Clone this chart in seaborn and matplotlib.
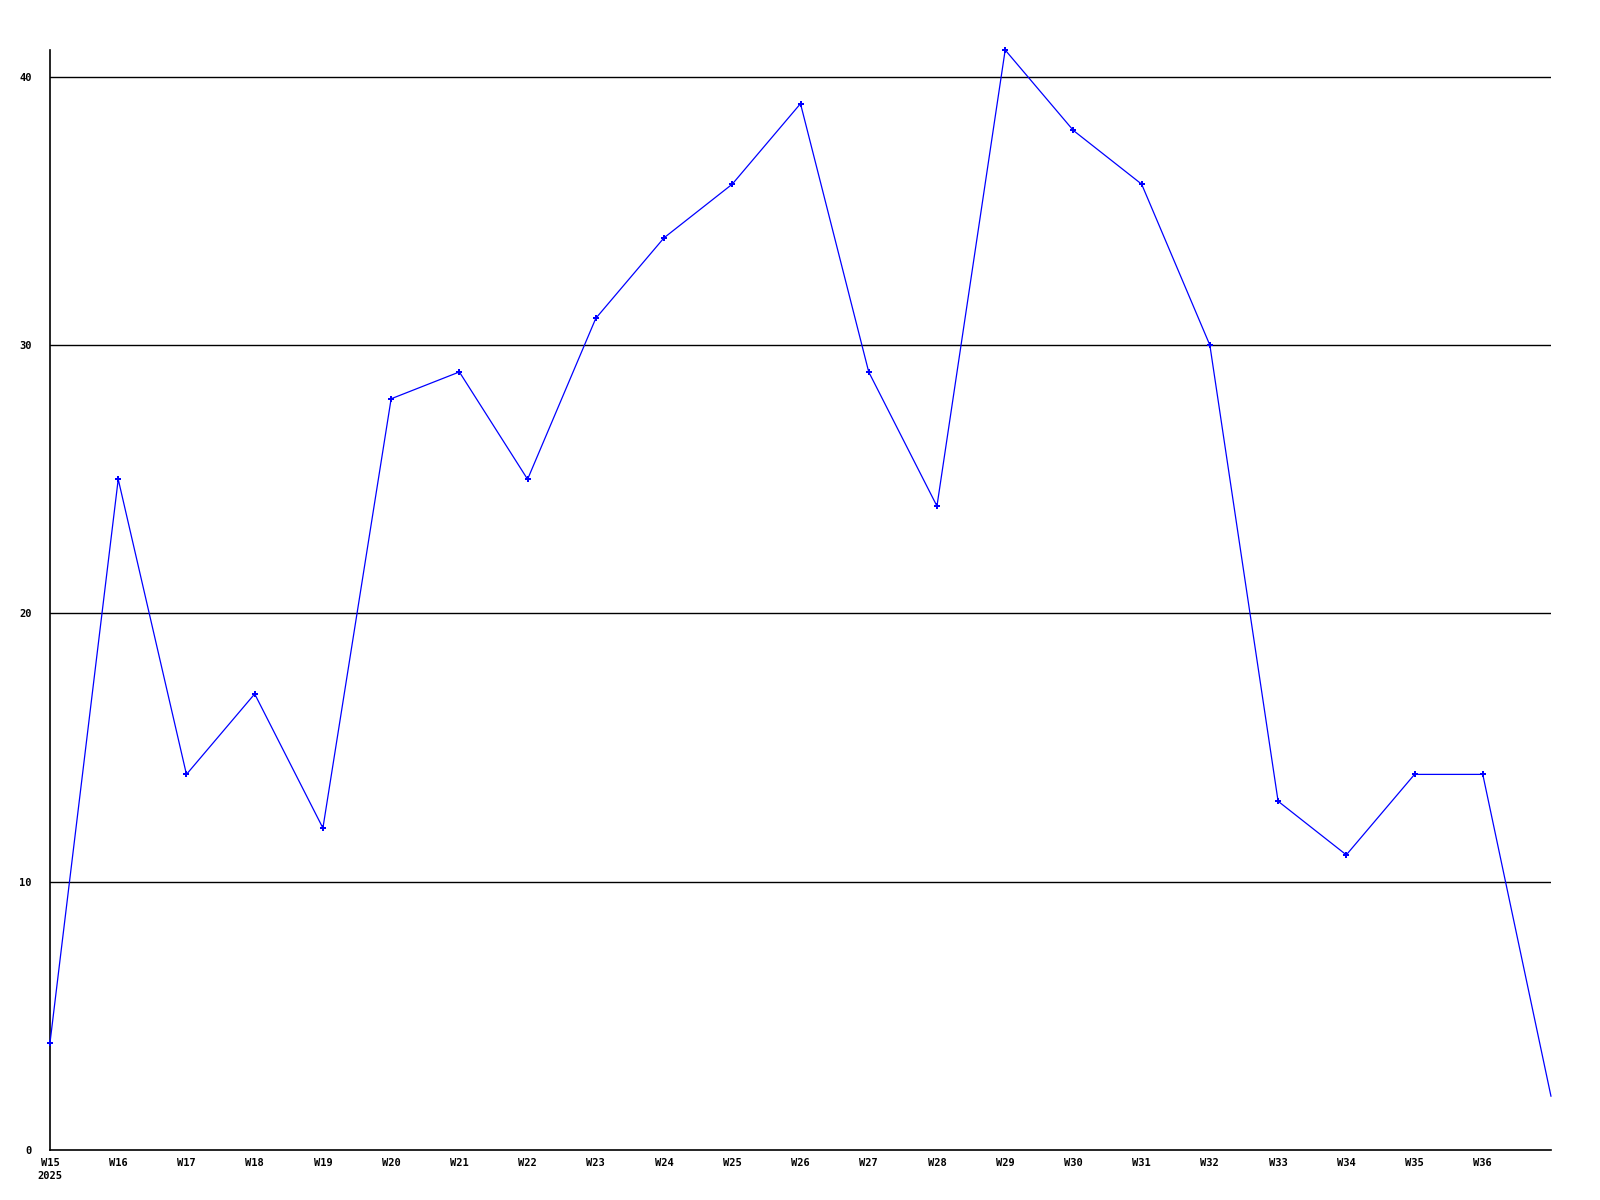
import matplotlib
matplotlib.use("Agg")
import matplotlib.pyplot as plt
import seaborn as sns
import pandas as pd

weeks = ["W15", "W16", "W17", "W18", "W19", "W20", "W21", "W22", "W23", "W24", "W25",
         "W26", "W27", "W28", "W29", "W30", "W31", "W32", "W33", "W34", "W35", "W36", "W37"]
values = [4, 25, 14, 17, 12, 28, 29, 25, 31, 34, 36, 39, 29, 24, 41, 38, 36, 30, 13, 11, 14, 14, 2]
tick_labels = ["W15\n2025", "W16", "W17", "W18", "W19", "W20", "W21", "W22", "W23", "W24", "W25",
               "W26", "W27", "W28", "W29", "W30", "W31", "W32", "W33", "W34", "W35", "W36"]
y_ticks = [0, 10, 20, 30, 40]

sns.set_theme(style="white")
plt.rcParams['font.family'] = ['DejaVu Sans Mono', 'DejaVu Sans']
plt.rcParams['text.color'] = 'black'
plt.rcParams['xtick.color'] = 'black'
plt.rcParams['ytick.color'] = 'black'

df = pd.DataFrame({"idx": list(range(len(weeks))), "value": values})

fig = plt.figure(figsize=(16, 12), dpi=100)
ax = fig.add_axes([50/1600, 1 - 1150/1200, (1551-50)/1600, 1100/1200])

for yv in y_ticks[1:]:
    ax.axhline(yv, color="black", linewidth=1.0, zorder=1)

sns.lineplot(data=df, x="idx", y="value", ax=ax, color="#0000ff", linewidth=0.9,
             marker="P", markersize=4, markeredgewidth=0, zorder=3, clip_on=False,
             markevery=list(range(len(values) - 1)))

ax.set_xlim(0, len(weeks) - 1)
ax.set_ylim(0, 41)
ax.set_xticks(list(range(len(tick_labels))))
ax.set_xticklabels(tick_labels, fontsize=7.5, fontweight="bold", ha="center", va="top",
                   linespacing=1.3, color="black")
ax.set_yticks(y_ticks)
ax.set_yticklabels([str(v) for v in y_ticks], fontsize=7.5, fontweight="bold", color="black")
ax.tick_params(axis="x", length=0, pad=6, labelcolor="black")
ax.tick_params(axis="y", length=0, pad=13, labelcolor="black")
ax.set_xlabel("")
ax.set_ylabel("")
for s in ["top", "right"]:
    ax.spines[s].set_visible(False)
for s in ["left", "bottom"]:
    ax.spines[s].set_color("black")
    ax.spines[s].set_linewidth(1.2)
    ax.spines[s].set_zorder(2)
ax.grid(False)

fig.savefig("out.png", dpi=100, facecolor="white")
